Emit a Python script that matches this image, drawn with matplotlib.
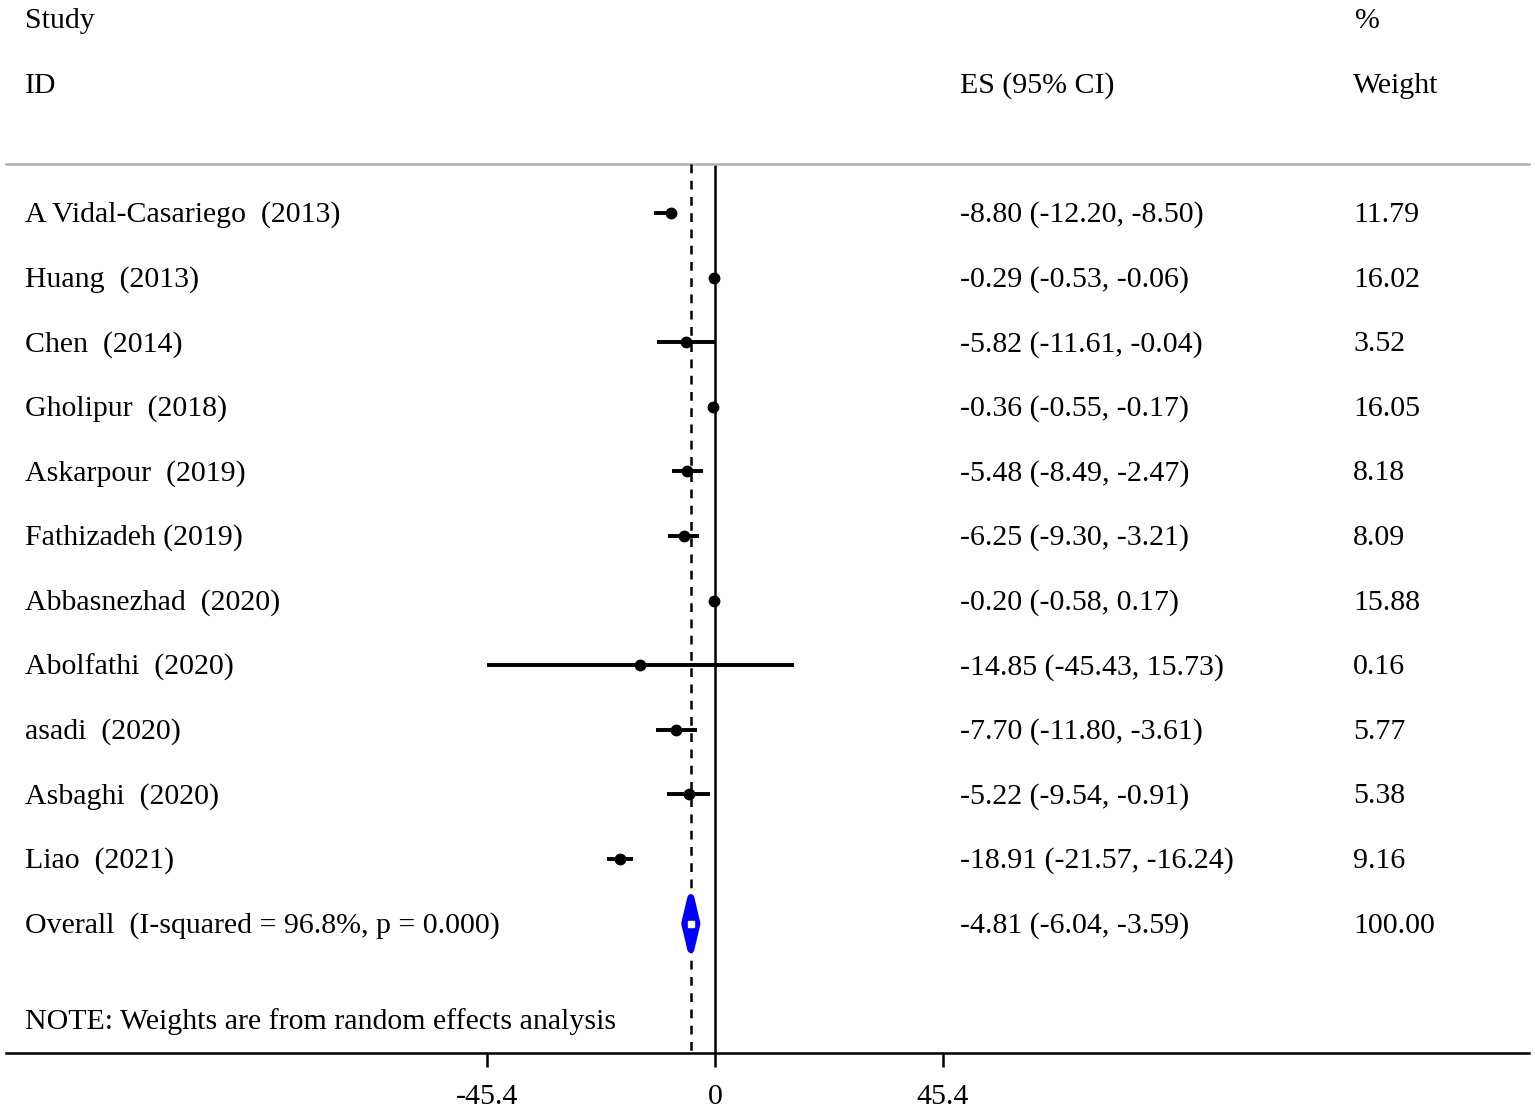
import numpy as np
import matplotlib
matplotlib.use('Agg')
import matplotlib.pyplot as plt
from matplotlib.patches import Polygon
from matplotlib.transforms import blended_transform_factory

plt.rcParams['font.family'] = ['Liberation Serif', 'DejaVu Serif']

# 研究数据
studies = ['A Vidal-Casariego  (2013)', 'Huang  (2013)', 'Chen  (2014)', 'Gholipur  (2018)',
           'Askarpour  (2019)', 'Fathizadeh (2019)', 'Abbasnezhad  (2020)', 'Abolfathi  (2020)',
           'asadi  (2020)', 'Asbaghi  (2020)', 'Liao  (2021)']
es = [-8.80, -0.29, -5.82, -0.36, -5.48, -6.25, -0.20, -14.85, -7.70, -5.22, -18.91]
lo = [-12.20, -0.53, -11.61, -0.55, -8.49, -9.30, -0.58, -45.43, -11.80, -9.54, -21.57]
hi = [-8.50, -0.06, -0.04, -0.17, -2.47, -3.21, 0.17, 15.73, -3.61, -0.91, -16.24]
weights = [11.79, 16.02, 3.52, 16.05, 8.18, 8.09, 15.88, 0.16, 5.77, 5.38, 9.16]

overall_label = 'Overall  (I-squared = 96.8%, p = 0.000)'
overall_es, overall_lo, overall_hi = -4.81, -6.04, -3.59
overall_weight = 100.00
xticks = [-45.4, 0, 45.4]

W, H = 1535, 1111
fig = plt.figure(figsize=(W / 100, H / 100), dpi=100)
ax_top, ax_bot, ax_l, ax_r = 164, 1053, 6, 1529
ax = fig.add_axes([ax_l / W, (H - ax_bot) / H, (ax_r - ax_l) / W, (ax_bot - ax_top) / H])

# x轴比例
zero_px = 715
ppu = 228 / 45.4
ax.set_xlim((ax_l - zero_px) / ppu, (ax_r - zero_px) / ppu)
ax.set_ylim(ax_bot, ax_top)
tr = blended_transform_factory(fig.transFigure, ax.transData)

row0, step = 213, 64.6
ys = [row0 + i * step for i in range(len(studies))]
y_over = row0 + len(studies) * step

fs = 21.5
dy = 2  # 文字垂直微调
for y, s, e, l, h, w in zip(ys, studies, es, lo, hi, weights):
    ax.plot([l, h], [y, y], color='black', lw=2.8, solid_capstyle='butt')
    ax.plot(e, y, 'o', color='black', ms=7.5)
    ax.text(25 / W, y + dy, s, transform=tr, fontsize=fs, va='center', ha='left')
    ax.text(960 / W, y + dy, f'{e:.2f} ({l:.2f}, {h:.2f})', transform=tr,
            fontsize=fs, va='center', ha='left')
    ax.text(1353 / W, y + dy, f'{w:.2f}', transform=tr, fontsize=fs,
            va='center', ha='left')

# 合并效应菱形
dh = 26
diamond = Polygon([[overall_lo, y_over], [overall_es, y_over - dh], [overall_hi, y_over],
                   [overall_es, y_over + dh]], closed=True, facecolor='#0000ff',
                  edgecolor='#0000ff', lw=5, joinstyle='round', zorder=5)
ax.add_patch(diamond)
ax.plot(overall_es, y_over, 's', color='white', ms=4, zorder=6)
ax.text(25 / W, y_over + dy, overall_label, transform=tr, fontsize=fs,
        va='center', ha='left')
ax.text(960 / W, y_over + dy, f'{overall_es:.2f} ({overall_lo:.2f}, {overall_hi:.2f})',
        transform=tr, fontsize=fs, va='center', ha='left')
ax.text(1353 / W, y_over + dy, f'{overall_weight:.2f}', transform=tr,
        fontsize=fs, va='center', ha='left')

# 参考线
ax.axvline(0, color='black', lw=1.8)
ax.plot([overall_es, overall_es], [ax_top, ax_bot], color='black', lw=1.8,
        dashes=(3.5, 3), zorder=4)

ax.text(25 / W, 1020 + dy, 'NOTE: Weights are from random effects analysis',
        transform=tr, fontsize=fs, va='center', ha='left')

# 表头
for x, y, s in [(25, 18, 'Study'), (25, 83, 'ID'), (960, 83, 'ES (95% CI)'),
                (1355, 18, '%'), (1353, 83, 'Weight')]:
    fig.text(x / W, 1 - (y + 3) / H, s, fontsize=fs, va='center', ha='left')

for sp in ['left', 'right']:
    ax.spines[sp].set_visible(False)
ax.spines['top'].set_color('#b0b0b0')
ax.spines['top'].set_linewidth(1.8)
ax.spines['bottom'].set_linewidth(1.8)
ax.set_yticks([])
ax.set_xticks(xticks)
ax.set_xticklabels([f'{t:g}' for t in xticks])
ax.tick_params(axis='x', length=10, width=1.8, labelsize=fs, pad=12)

fig.savefig('out.png', dpi=100)
